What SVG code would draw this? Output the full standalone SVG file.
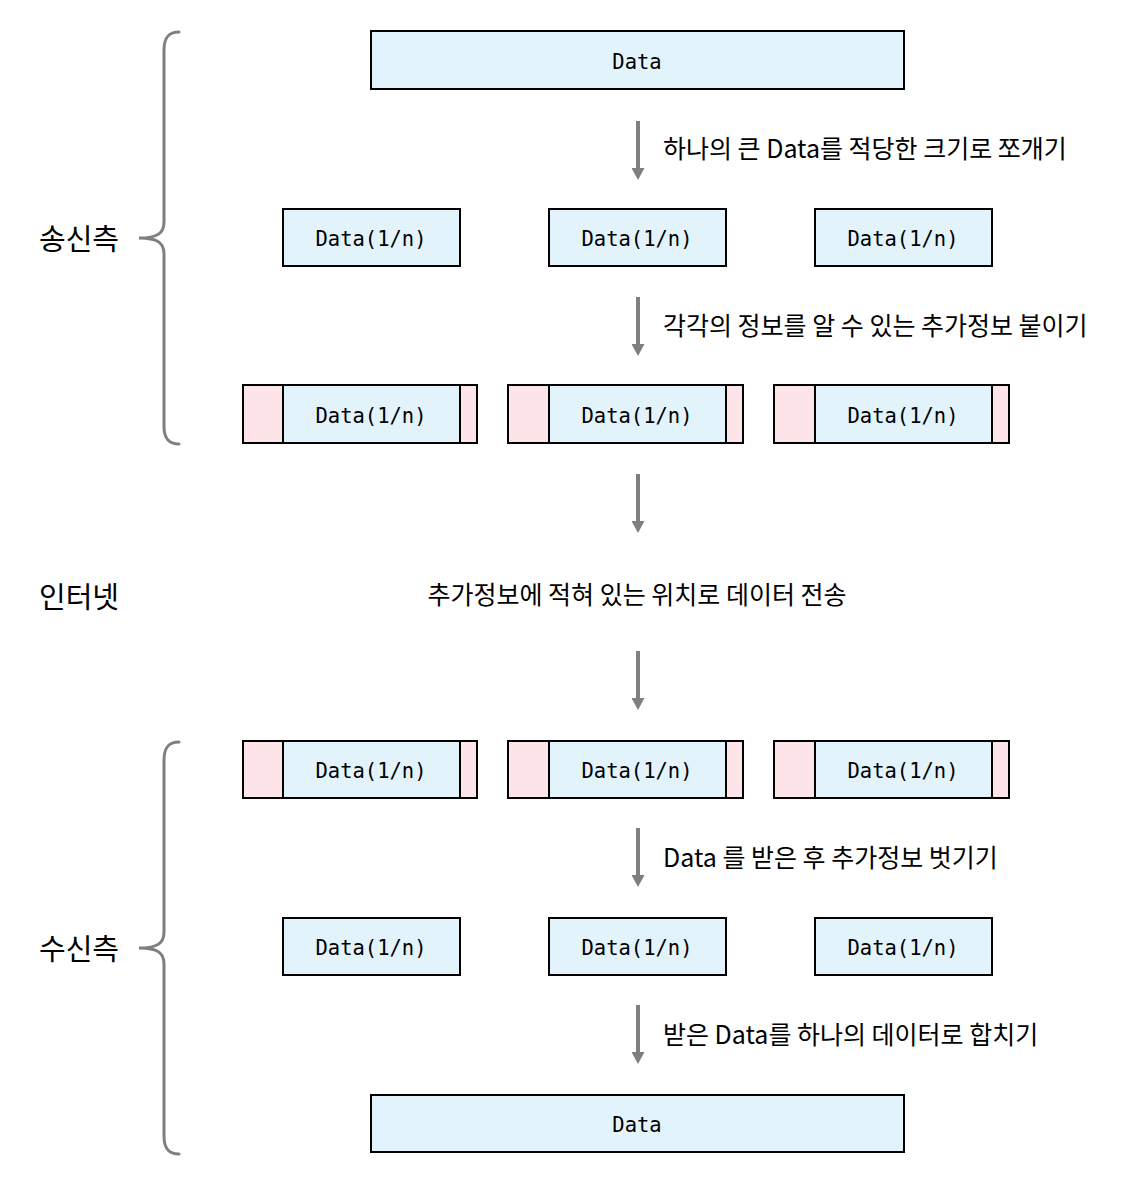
<svg xmlns="http://www.w3.org/2000/svg" width="1125" height="1193" viewBox="0 0 1125 1193">
<defs>
<style>
.box{fill:#E3F3FC;stroke:#000;stroke-width:2}
.hdr{fill:#FDE4E8;stroke:#000;stroke-width:2}
.mono{font-family:"DejaVu Sans Mono","Liberation Mono",monospace;font-size:20.5px;fill:#000;text-anchor:middle}
.lbl{font-family:"Noto Sans CJK KR","Noto Sans",sans-serif;font-size:25px;fill:#000}
.side{font-family:"Noto Sans CJK KR","Noto Sans",sans-serif;font-size:29px;fill:#000}
.arr{stroke:#7F7F7F;stroke-width:4;fill:none;marker-end:url(#ah)}
.brace{stroke:#7F7F7F;stroke-width:3;fill:none;stroke-linecap:round}
</style>
<marker id="ah" markerUnits="userSpaceOnUse" markerWidth="12" markerHeight="13" viewBox="0 0 12 13" refX="0" refY="6.5" orient="auto">
<path d="M0,0 L12,6.5 L0,13 Z" fill="#7F7F7F"/>
</marker>
</defs>
<rect width="1125" height="1193" fill="#fff"/>

<g id="braces">
<path class="brace" d="M179,32 C168,32 164,38 164,50 L164,222 C164,233 158,238 139,238 C158,238 164,243 164,254 L164,426 C164,438 168,444 179,444"/>
<path class="brace" d="M179,742 C168,742 164,748 164,760 L164,932 C164,943 158,948 139,948 C158,948 164,953 164,964 L164,1136 C164,1148 168,1154 179,1154"/>
</g>

<g id="side-labels">
<text class="side" x="39" y="250">송신측</text>
<text class="side" x="39" y="608">인터넷</text>
<text class="side" x="39" y="960">수신측</text>
</g>

<g id="connectors">
<line class="arr" x1="638" y1="121" x2="638" y2="168"/>
<line class="arr" x1="638" y1="297" x2="638" y2="344"/>
<line class="arr" x1="638" y1="474" x2="638" y2="521"/>
<line class="arr" x1="638" y1="651" x2="638" y2="698"/>
<line class="arr" x1="638" y1="828" x2="638" y2="875"/>
<line class="arr" x1="638" y1="1005" x2="638" y2="1052"/>
</g>

<g id="step-labels">
<text class="lbl" x="663" y="158">하나의 큰 Data를 적당한 크기로 쪼개기</text>
<text class="lbl" x="663" y="335">각각의 정보를 알 수 있는 추가정보 붙이기</text>
<text class="lbl" x="637" y="604" text-anchor="middle">추가정보에 적혀 있는 위치로 데이터 전송</text>
<text class="lbl" x="663" y="867">Data 를 받은 후 추가정보 벗기기</text>
<text class="lbl" x="663" y="1044">받은 Data를 하나의 데이터로 합치기</text>
</g>

<g id="data-top">
<rect class="box" x="371" y="31" width="533" height="58"/>
<text class="mono" x="637" y="69">Data</text>
</g>

<g id="split-1"><rect class="box" x="283" y="209" width="177" height="57"/><text class="mono" x="371" y="246">Data(1/n)</text></g>
<g id="split-2"><rect class="box" x="549" y="209" width="177" height="57"/><text class="mono" x="637" y="246">Data(1/n)</text></g>
<g id="split-3"><rect class="box" x="815" y="209" width="177" height="57"/><text class="mono" x="903" y="246">Data(1/n)</text></g>

<g id="packet-1"><rect class="hdr" x="243" y="385" width="234" height="58"/><rect class="box" x="283" y="385" width="177" height="58"/><text class="mono" x="371" y="423">Data(1/n)</text></g>
<g id="packet-2"><rect class="hdr" x="508" y="385" width="235" height="58"/><rect class="box" x="549" y="385" width="177" height="58"/><text class="mono" x="637" y="423">Data(1/n)</text></g>
<g id="packet-3"><rect class="hdr" x="774" y="385" width="235" height="58"/><rect class="box" x="815" y="385" width="177" height="58"/><text class="mono" x="903" y="423">Data(1/n)</text></g>

<g id="recv-packet-1"><rect class="hdr" x="243" y="741" width="234" height="57"/><rect class="box" x="283" y="741" width="177" height="57"/><text class="mono" x="371" y="778">Data(1/n)</text></g>
<g id="recv-packet-2"><rect class="hdr" x="508" y="741" width="235" height="57"/><rect class="box" x="549" y="741" width="177" height="57"/><text class="mono" x="637" y="778">Data(1/n)</text></g>
<g id="recv-packet-3"><rect class="hdr" x="774" y="741" width="235" height="57"/><rect class="box" x="815" y="741" width="177" height="57"/><text class="mono" x="903" y="778">Data(1/n)</text></g>

<g id="recv-1"><rect class="box" x="283" y="918" width="177" height="57"/><text class="mono" x="371" y="955">Data(1/n)</text></g>
<g id="recv-2"><rect class="box" x="549" y="918" width="177" height="57"/><text class="mono" x="637" y="955">Data(1/n)</text></g>
<g id="recv-3"><rect class="box" x="815" y="918" width="177" height="57"/><text class="mono" x="903" y="955">Data(1/n)</text></g>

<g id="data-bottom">
<rect class="box" x="371" y="1095" width="533" height="57"/>
<text class="mono" x="637" y="1132">Data</text>
</g>
</svg>
